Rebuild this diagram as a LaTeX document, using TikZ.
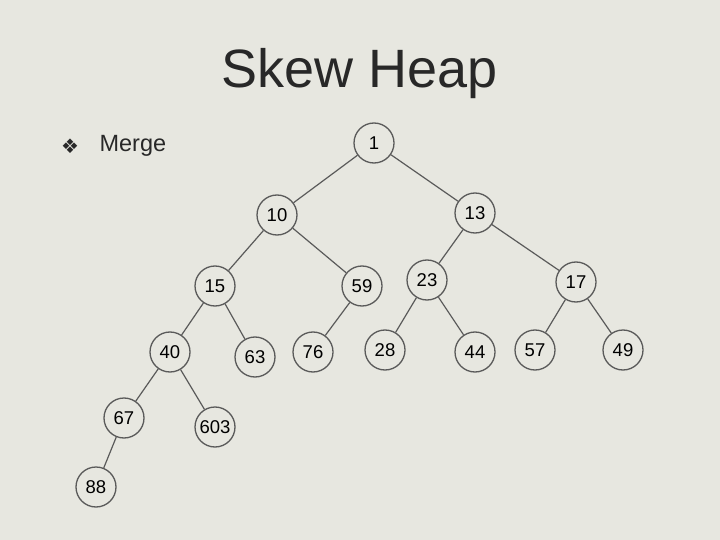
\documentclass[tikz,border=0pt]{standalone}
\usepackage{fontspec}
\setmainfont{Liberation Sans}
\newfontfamily\symfont{DejaVu Sans}
\usepackage{xcolor}
\usepackage{tikz}
\usetikzlibrary{positioning, calc}

\definecolor{slidebg}{RGB}{231,231,224}
\definecolor{edgegray}{RGB}{90,90,90}
\definecolor{textdark}{RGB}{40,40,40}

\tikzset{
    heapnode/.style={draw=edgegray, circle, line width=1.3pt, minimum size=40pt, inner sep=0pt, text=black, font=\fontsize{18.5}{18.5}\selectfont},
    heapedge/.style={draw=edgegray, line width=1.2pt}
}

\begin{document}
\begin{tikzpicture}[x=1pt, y=-1pt]
        \fill[slidebg] (0,0) rectangle (720,540);
        \useasboundingbox (0,0) rectangle (720,540);

        % Title and bullet
        \node[text=textdark, font=\fontsize{54}{54}\selectfont] (title) at (360,74) {Skew Heap};
        \node[text=textdark, font=\symfont\fontsize{20}{20}\selectfont] (bullet) at (70,146) {❖};
        \node[text=textdark, font=\fontsize{23.5}{23.5}\selectfont, anchor=west] (merge) at (96,146) {Merge};

        % Heap nodes
        \node[heapnode] (n1) at (374,143) {1};
        \node[heapnode] (n10) at (277,215) {10};
        \node[heapnode] (n13) at (475,213) {13};
        \node[heapnode] (n15) at (215,286) {15};
        \node[heapnode] (n59) at (362,286) {59};
        \node[heapnode] (n23) at (427,280) {23};
        \node[heapnode] (n17) at (576,282) {17};
        \node[heapnode] (n40) at (170,352) {40};
        \node[heapnode] (n63) at (255,357) {63};
        \node[heapnode] (n76) at (313,352) {76};
        \node[heapnode] (n28) at (385,350) {28};
        \node[heapnode] (n44) at (475,352) {44};
        \node[heapnode] (n57) at (535,350) {57};
        \node[heapnode] (n49) at (623,350) {49};
        \node[heapnode] (n67) at (124,418) {67};
        \node[heapnode] (n603) at (215,427) {603};
        \node[heapnode] (n88) at (96,487) {88};

        % Edges
        \draw[heapedge] (n1) -- (n10);
        \draw[heapedge] (n1) -- (n13);
        \draw[heapedge] (n10) -- (n15);
        \draw[heapedge] (n10) -- (n59);
        \draw[heapedge] (n13) -- (n23);
        \draw[heapedge] (n13) -- (n17);
        \draw[heapedge] (n15) -- (n40);
        \draw[heapedge] (n15) -- (n63);
        \draw[heapedge] (n59) -- (n76);
        \draw[heapedge] (n23) -- (n28);
        \draw[heapedge] (n23) -- (n44);
        \draw[heapedge] (n17) -- (n57);
        \draw[heapedge] (n17) -- (n49);
        \draw[heapedge] (n40) -- (n67);
        \draw[heapedge] (n40) -- (n603);
        \draw[heapedge] (n67) -- (n88);

    \end{tikzpicture}
\end{document}
